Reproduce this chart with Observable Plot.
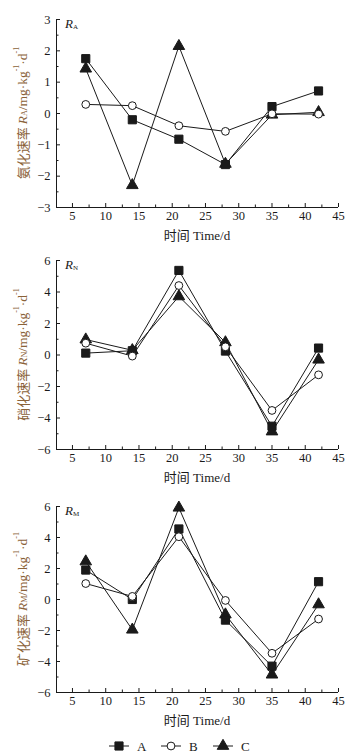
<!DOCTYPE html>
<html><head><meta charset="utf-8">
<script src="https://cdn.jsdelivr.net/npm/d3@7"></script>
<script src="https://cdn.jsdelivr.net/npm/@observablehq/plot@0.6"></script>
<style>
body{margin:0;background:#fff;}
#chart{width:356px;}
svg{display:block;}
</style></head><body><div id="chart"></div>
<script>
// ---- data ----
const days = [7, 14, 21, 28, 35, 42];
const seriesNames = ["A", "B", "C"];
// Ammonification rate R_A
const ammonA = [1.75, -0.20, -0.82, -1.63, 0.22, 0.72];
const ammonB = [0.29, 0.25, -0.39, -0.57, -0.01, -0.02];
const ammonC = [1.43, -2.29, 2.15, -1.61, -0.04, 0.04];
// Nitrification rate R_N
const nitrA = [0.12, 0.27, 5.37, 0.25, -4.52, 0.44];
const nitrB = [0.75, -0.07, 4.41, 0.52, -3.52, -1.26];
const nitrC = [0.98, 0.30, 3.72, 0.80, -4.86, -0.30];
// Mineralization rate R_M
const minerA = [1.90, 0.00, 4.55, -1.33, -4.30, 1.15];
const minerB = [1.03, 0.20, 4.05, -0.06, -3.47, -1.26];
const minerC = [2.45, -1.95, 5.92, -0.97, -4.85, -0.32];
// ticks
const xTicks = [5, 10, 15, 20, 25, 30, 35, 40, 45];
const xMinorTicks = [7.5, 12.5, 17.5, 22.5, 27.5, 32.5, 37.5, 42.5];
const yTicksA = [-3, -2, -1, 0, 1, 2, 3];
const yMinorA = [-2.5, -1.5, -0.5, 0.5, 1.5, 2.5];
const yTicksNM = [-6, -4, -2, 0, 2, 4, 6];
const yMinorNM = [-5, -3, -1, 1, 3, 5];
// text
const xLabel = "时间 Time/d";
const panelNames = ["氨化速率", "硝化速率", "矿化速率"];
const panelSubs = ["A", "N", "M"];
const legendLabels = ["A", "B", "C"];

const INK = "#1a1a1a";
const LABEL_COLOR = "#8a6238";
const FONT = "'Liberation Serif', 'Times New Roman', 'Noto Sans CJK SC', serif";
const CJK = "'Noto Sans CJK SC', sans-serif";

function rows(a, b, c) {
  const out = [];
  [a, b, c].forEach((vals, i) => vals.forEach((v, j) => out.push({series: seriesNames[i], day: days[j], v})));
  return out;
}

const symbolOf = {A: "square", B: "circle", C: "triangle"};
const fillOf = {A: INK, B: "#fff", C: INK};
const rOf = {A: 4.6, B: 3.9, C: 4.3};

const W = 356, ML = 56, MR = 18, MB = 38;

function panel({data, yDomain, yTicks, yMinor, height, marginTop, idx}) {
  const xDomain = [2.6, 45];
  const order = ["C", "A", "B"];
  const innerW = W - ML - MR;
  const innerH = height - marginTop - MB;
  const plot = Plot.plot({
    width: W, height, marginTop, marginBottom: MB, marginLeft: ML, marginRight: MR,
    style: {fontFamily: FONT, fontSize: "12.5px", color: INK, background: "#fff"},
    x: {domain: xDomain, label: null},
    y: {domain: yDomain, label: null},
    marks: [
      Plot.ruleX([xDomain[0]], {stroke: INK, strokeWidth: 1}),
      Plot.ruleY([yDomain[0]], {stroke: INK, strokeWidth: 1}),
      // inward tick marks
      Plot.tickX(xTicks, {x: d => d, insetTop: innerH - 4, stroke: INK}),
      Plot.tickX(xMinorTicks, {x: d => d, insetTop: innerH - 2.5, stroke: INK}),
      Plot.tickY(yTicks, {y: d => d, insetRight: innerW - 4, stroke: INK}),
      Plot.tickY(yMinor, {y: d => d, insetRight: innerW - 2.5, stroke: INK}),
      // tick labels
      Plot.axisX(xTicks, {tickSize: 0, tickPadding: 4, fill: INK, label: null}),
      Plot.axisY(yTicks, {tickSize: 0, tickPadding: 6, fill: INK, label: null}),
      Plot.line(data, {x: "day", y: "v", z: "series", stroke: INK, strokeWidth: 1}),
      ...order.map(s => Plot.dot(data.filter(d => d.series === s), {
        x: "day", y: "v", symbol: symbolOf[s], r: rOf[s], fill: fillOf[s], stroke: INK, strokeWidth: 1
      }))
    ]
  });
  const sx = plot.scale("x"), sy = plot.scale("y");
  const svg = d3.select(plot);
  const left = sx.range[0], right = sx.range[1];
  const bottom = sy.range[0], top = sy.range[1];
  // x label
  svg.append("text").attr("x", (left + right) / 2).attr("y", bottom + 33)
    .attr("text-anchor", "middle").attr("fill", INK)
    .style("font-family", FONT).style("font-size", "13px").text(xLabel);
  // in-plot label R_x
  const t = svg.append("text").attr("x", left + 9).attr("y", top + 9)
    .attr("text-anchor", "start")
    .attr("fill", INK).style("font-family", FONT).style("font-size", "13px");
  t.append("tspan").style("font-style", "italic").text("R");
  t.append("tspan").style("font-size", "7px").attr("baseline-shift", "-1").text(panelSubs[idx]);
  // y label
  const yl = svg.append("text")
    .attr("transform", `translate(22,${(top + bottom) / 2}) rotate(-90)`)
    .attr("text-anchor", "middle").attr("dominant-baseline", "central")
    .attr("fill", LABEL_COLOR).style("font-family", FONT).style("font-size", "13.5px");
  yl.append("tspan").style("font-family", CJK).style("font-size", "13px").text(panelNames[idx] + " ");
  yl.append("tspan").style("font-style", "italic").text("R");
  yl.append("tspan").style("font-size", "8px").attr("baseline-shift", "-2").text(panelSubs[idx]);
  yl.append("tspan").text("/mg·kg");
  yl.append("tspan").style("font-size", "8px").attr("baseline-shift", "6").text("-1");
  yl.append("tspan").text("·d");
  yl.append("tspan").style("font-size", "8px").attr("baseline-shift", "6").text("-1");
  return plot;
}

const chart = document.getElementById("chart");
chart.append(panel({data: rows(ammonA, ammonB, ammonC), yDomain: [-3, 3], yTicks: yTicksA, yMinor: yMinorA, height: 245, marginTop: 19, idx: 0}));
chart.append(panel({data: rows(nitrA, nitrB, nitrC), yDomain: [-6, 6], yTicks: yTicksNM, yMinor: yMinorNM, height: 242, marginTop: 15, idx: 1}));
chart.append(panel({data: rows(minerA, minerB, minerC), yDomain: [-6, 6], yTicks: yTicksNM, yMinor: yMinorNM, height: 243, marginTop: 19, idx: 2}));

// legend
const legendX = [119, 171, 223];
const lg = d3.create("svg").attr("width", W).attr("height", 26);
legendLabels.forEach((name, i) => {
  const cx = legendX[i];
  lg.append("line").attr("x1", cx - 10).attr("x2", cx + 10).attr("y1", 16).attr("y2", 16).attr("stroke", INK);
  const sym = {A: d3.symbolSquare, B: d3.symbolCircle, C: d3.symbolTriangle}[name];
  const r = rOf[name];
  lg.append("path").attr("d", d3.symbol(sym, Math.PI * r * r)())
    .attr("transform", `translate(${cx},16)`).attr("fill", fillOf[name]).attr("stroke", INK);
  lg.append("text").attr("x", cx + 18).attr("y", 16).attr("dy", "0.35em")
    .attr("fill", INK).style("font-family", FONT).style("font-size", "13px").text(name);
});
chart.append(lg.node());
</script></body></html>
